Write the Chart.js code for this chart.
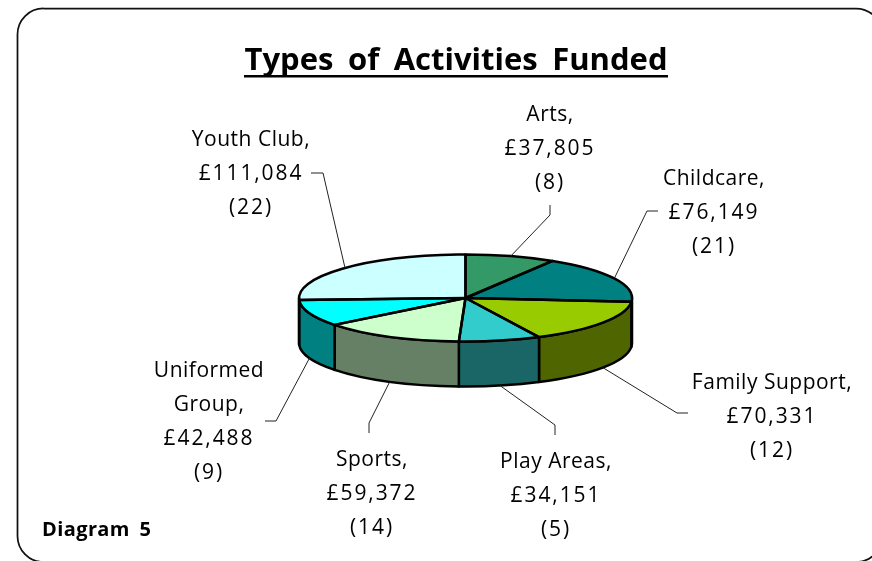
<!DOCTYPE html>
<html>
<head>
<meta charset="utf-8">
<title>Types of Activities Funded</title>
<script src="https://cdn.jsdelivr.net/npm/chart.js@4"></script>
<style>
  html, body { margin: 0; padding: 0; background: #fff; overflow: hidden; }
  canvas { display: block; }
</style>
</head>
<body>
<canvas id="myChart" width="872" height="561"></canvas>
<script>
// Data
const categories = ['Arts', 'Childcare', 'Family Support', 'Play Areas', 'Sports', 'Uniformed Group', 'Youth Club'];
const amounts = [37805, 76149, 70331, 34151, 59372, 42488, 111084];
const projects = [8, 21, 12, 5, 14, 9, 22];

// Colours of the top of each slice and of its side wall
const topColours = ['#339966', '#008080', '#99CC00', '#33CCCC', '#CCFFCC', '#00FFFF', '#CCFFFF'];
const sideColours = ['#1A4D33', '#004040', '#4F6600', '#1A6666', '#668066', '#008080', '#668080'];

// Where each label goes: centre x, y of first line, then the leader line bend and end
const labelX = [550, 714, 772, 556, 372, 209, 251];
const labelY = [115, 179, 383, 462, 460, 371, 140];
const leaderBend = [[550, 215], [647, 211], [677, 413], [555, 425], [369, 423], [276, 421], [323, 173]];
const leaderEnd = [[550, 205], [658, 211], [688, 413], [555, 435], [369, 433], [265, 421], [311, 173]];
const lineGap = 34;

const pieSquash = 43.5 / 166.5; // Height / width of the top ellipse
const pieDepth = 45;
const fontName = '"Open Sans", sans-serif';

function sliceOutline(ctx, arc) {
    const ry = arc.outerRadius * pieSquash;
    ctx.beginPath();
    ctx.moveTo(arc.x, arc.y);
    ctx.ellipse(arc.x, arc.y, arc.outerRadius, ry, 0, arc.startAngle, arc.endAngle);
    ctx.closePath();
}

// Side wall, only the part of the slice that faces the viewer
function drawSides(chart) {
    const ctx = chart.ctx;
    chart.getDatasetMeta(0).data.forEach(function(arc, i) {
        const from = Math.max(arc.startAngle, 0);
        const to = Math.min(arc.endAngle, Math.PI);
        if (from >= to) {
            return;
        }
        const ry = arc.outerRadius * pieSquash;
        ctx.beginPath();
        ctx.ellipse(arc.x, arc.y, arc.outerRadius, ry, 0, from, to);
        ctx.ellipse(arc.x, arc.y + pieDepth, arc.outerRadius, ry, 0, to, from, true);
        ctx.closePath();
        ctx.fillStyle = sideColours[i];
        ctx.fill();
        ctx.lineWidth = 2.5;
        ctx.lineJoin = 'round';
        ctx.strokeStyle = '#000';
        ctx.stroke();
    });
}

function drawLeaders(chart) {
    const ctx = chart.ctx;
    ctx.lineWidth = 1;
    ctx.strokeStyle = '#222';
    chart.getDatasetMeta(0).data.forEach(function(arc, i) {
        const mid = (arc.startAngle + arc.endAngle) / 2;
        const ry = arc.outerRadius * pieSquash;
        const startX = arc.x + arc.outerRadius * Math.cos(mid);
        let startY = arc.y + ry * Math.sin(mid);
        if (Math.sin(mid) > 0) {
            startY += pieDepth; // Front slices: the line leaves from the bottom edge
        }
        ctx.beginPath();
        ctx.moveTo(startX, startY);
        ctx.lineTo(leaderBend[i][0], leaderBend[i][1]);
        ctx.lineTo(leaderEnd[i][0], leaderEnd[i][1]);
        ctx.stroke();
    });
}

function drawLabels(chart) {
    const ctx = chart.ctx;
    ctx.fillStyle = '#000';
    ctx.textAlign = 'center';
    ctx.textBaseline = 'middle';
    ctx.font = '21px ' + fontName;
    categories.forEach(function(name, i) {
        // Only the longest name goes over two lines
        const names = name === 'Uniformed Group' ? ['Uniformed', 'Group,'] : [name + ','];
        let y = labelY[i];
        ctx.letterSpacing = '0.5px';
        names.forEach(function(text) {
            ctx.fillText(text, labelX[i], y);
            y += lineGap;
        });
        // Digits run wider than the names in the original
        ctx.letterSpacing = '1.9px';
        ctx.fillText('£' + amounts[i].toLocaleString('en-GB'), labelX[i], y);
        ctx.fillText('(' + projects[i] + ')', labelX[i], y + lineGap);
    });
    ctx.letterSpacing = '0px';
}

function drawHeadings(chart) {
    const ctx = chart.ctx;
    ctx.fillStyle = '#000';
    ctx.textBaseline = 'alphabetic';
    ctx.textAlign = 'center';
    ctx.font = 'bold 31px ' + fontName;
    ctx.wordSpacing = '6.5px';
    ctx.fillText('Types of Activities Funded', 456, 70);
    ctx.wordSpacing = '0px';
    ctx.fillRect(244, 75, 424, 2.5); // Underline

    ctx.textAlign = 'left';
    ctx.font = 'bold 20px ' + fontName;
    ctx.letterSpacing = '0.4px';
    ctx.wordSpacing = '4px';
    ctx.fillText('Diagram 5', 42, 536);
    ctx.letterSpacing = '0px';
    ctx.wordSpacing = '0px';
}

// Rounded frame, runs off the right and bottom edges of the page
const framePlugin = {
    id: 'frame',
    beforeDraw(chart) {
        const ctx = chart.ctx;
        ctx.save();
        ctx.beginPath();
        ctx.roundRect(17.5, 8.5, 864.5, 553.5, 26);
        ctx.lineWidth = 1.75;
        ctx.strokeStyle = '#111';
        ctx.stroke();
        ctx.restore();
    }
};

// Tilts the pie: sides first, then Chart.js draws its arcs squashed, then the black edges
const pie3dPlugin = {
    id: 'pie3d',
    beforeDatasetsDraw(chart) {
        const ctx = chart.ctx;
        const cy = chart.getDatasetMeta(0).data[0].y;
        ctx.save();
        drawSides(chart);
        ctx.restore();
        ctx.save();
        ctx.translate(0, cy);
        ctx.scale(1, pieSquash);
        ctx.translate(0, -cy);
    },
    afterDatasetsDraw(chart) {
        const ctx = chart.ctx;
        ctx.restore();
        ctx.save();
        ctx.lineWidth = 2.5;
        ctx.lineJoin = 'round';
        ctx.strokeStyle = '#000';
        chart.getDatasetMeta(0).data.forEach(function(arc) {
            sliceOutline(ctx, arc);
            ctx.stroke();
        });
        drawLeaders(chart);
        drawLabels(chart);
        drawHeadings(chart);
        ctx.restore();
    }
};

const ctx = document.getElementById('myChart').getContext('2d');
const chart = new Chart(ctx, {
    type: 'pie',
    data: {
        labels: categories,
        datasets: [{
            data: amounts,
            backgroundColor: topColours,
            borderWidth: 0
        }]
    },
    options: {
        responsive: false,
        animation: false,
        events: [],
        layout: { padding: { left: 299, right: 240, top: 131.5, bottom: 96.5 } },
        plugins: {
            legend: { display: false },
            tooltip: { enabled: false }
        }
    },
    plugins: [framePlugin, pie3dPlugin]
});
</script>
</body>
</html>
